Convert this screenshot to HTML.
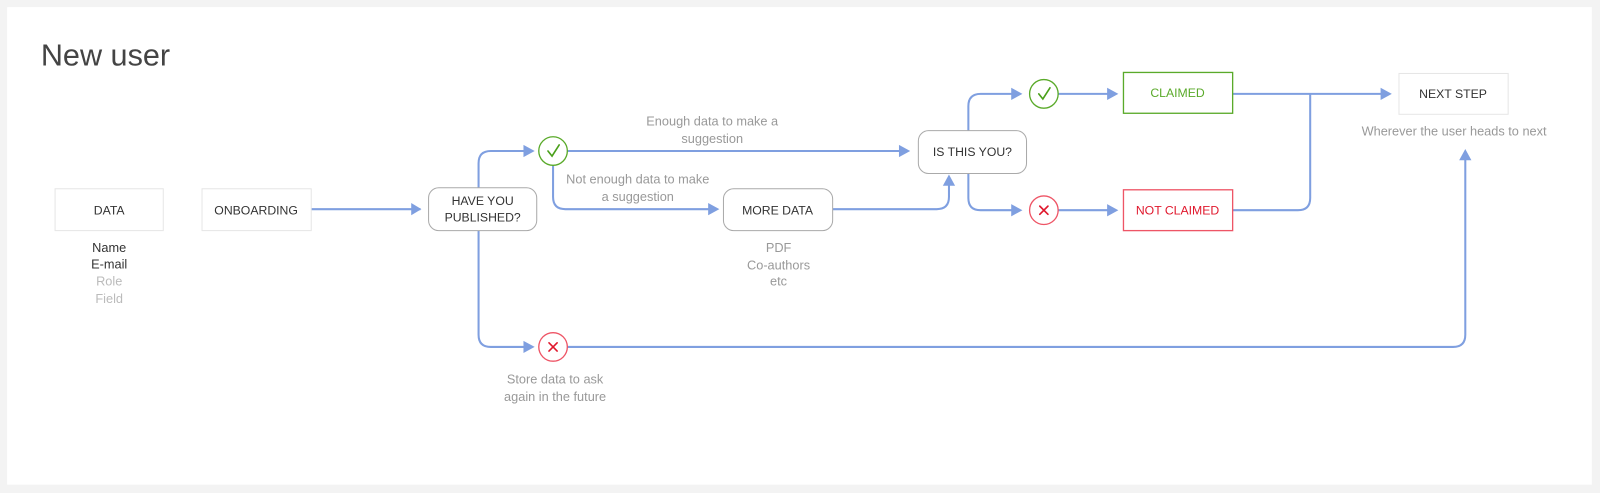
<!DOCTYPE html>
<html><head><meta charset="utf-8"><style>
html,body{margin:0;padding:0;background:#f3f3f3;}
svg{display:block;font-family:"Liberation Sans",Arial,sans-serif;}
</style></head><body>
<svg width="1600" height="493" viewBox="0 0 1600 493" xmlns="http://www.w3.org/2000/svg">
<rect x="0" y="0" width="1600" height="493" fill="#f3f3f3"/>
<g transform="scale(1.0204)">
<rect x="7" y="7" width="1553" height="468" fill="#ffffff"/>
<text x="40" y="64" font-size="30" fill="#444">New user</text>

<g fill="none" stroke="#7f9fe0" stroke-width="2">
<path d="M305 205 H412"/>
<path d="M469 184 V160 Q469 148 481 148 H516"/>
<path d="M469 226 V328 Q469 340 481 340 H516"/>
<path d="M556 148 H884"/>
<path d="M542 162 V193 Q542 205 554 205 H697"/>
<path d="M816 205 H918 Q930 205 930 193 V180"/>
<path d="M949 128 V104 Q949 92 961 92 H994"/>
<path d="M949 170 V194 Q949 206 961 206 H994"/>
<path d="M1037 92 H1088"/>
<path d="M1037 206 H1088"/>
<path d="M1208 92 H1356"/>
<path d="M1208 206 H1272 Q1284 206 1284 194 V92"/>
<path d="M556 340 H1424 Q1436 340 1436 328 V155"/>
</g>
<g fill="#7f9fe0">
<polygon points="403,199 413,205 403,211"/>
<polygon points="513,142 524,148 513,154"/>
<polygon points="513,334 524,340 513,346"/>
<polygon points="881,142 892,148 881,154"/>
<polygon points="694,199 705,205 694,211"/>
<polygon points="924,182 930,171 936,182"/>
<polygon points="991,86 1002,92 991,98"/>
<polygon points="991,200 1002,206 991,212"/>
<polygon points="1085,86 1096,92 1085,98"/>
<polygon points="1085,200 1096,206 1085,212"/>
<polygon points="1353,86 1364,92 1353,98"/>
<polygon points="1430,157 1436,146 1442,157"/>
</g>

<g font-size="12" fill="#333" text-anchor="middle">
<rect x="54" y="185" width="106" height="41" fill="#fff" stroke="#e6e6e6"/>
<text x="107" y="210">DATA</text>
<rect x="198" y="185" width="107" height="41" fill="#fff" stroke="#e6e6e6"/>
<text x="251" y="210">ONBOARDING</text>
<rect x="420" y="184" width="106" height="42" rx="10" fill="#fff" stroke="#aaa"/>
<text x="473" y="201">HAVE YOU</text>
<text x="473" y="217">PUBLISHED?</text>
<rect x="709" y="185" width="107" height="41" rx="10" fill="#fff" stroke="#aaa"/>
<text x="762" y="210">MORE DATA</text>
<rect x="900" y="128" width="106" height="42" rx="10" fill="#fff" stroke="#aaa"/>
<text x="953" y="153">IS THIS YOU?</text>
<rect x="1101" y="71" width="107" height="40" fill="#fff" stroke="#5aaa2a" stroke-width="1.3"/>
<text x="1154" y="95" fill="#5aaa2a">CLAIMED</text>
<rect x="1101" y="186" width="107" height="40" fill="#fff" stroke="#ee5566" stroke-width="1.3"/>
<text x="1154" y="210" fill="#e0182d">NOT CLAIMED</text>
<rect x="1371" y="72" width="107" height="40" fill="#fff" stroke="#e6e6e6"/>
<text x="1424" y="96">NEXT STEP</text>
</g>

<g fill="#fff" stroke-width="1.3">
<circle cx="542" cy="148" r="14" stroke="#5aaa2a"/>
<circle cx="542" cy="340" r="14" stroke="#ee5566"/>
<circle cx="1023" cy="92" r="14" stroke="#5aaa2a"/>
<circle cx="1023" cy="206" r="14" stroke="#ee5566"/>
</g>
<g fill="none" stroke-width="1.6" stroke-linecap="round">
<path d="M537 148 L541 153 L548 142" stroke="#4aa01a"/>
<path d="M1018 92 L1022 97 L1029 86" stroke="#4aa01a"/>
<path d="M538 336 L546 344 M546 336 L538 344" stroke="#e0182d"/>
<path d="M1019 202 L1027 210 M1027 202 L1019 210" stroke="#e0182d"/>
</g>

<g font-size="12.5" fill="#999" text-anchor="middle">
<text x="107" y="247" fill="#333">Name</text>
<text x="107" y="263" fill="#333">E-mail</text>
<text x="107" y="280" fill="#bbb">Role</text>
<text x="107" y="297" fill="#bbb">Field</text>
<text x="698" y="123">Enough data to make a</text>
<text x="698" y="140">suggestion</text>
<text x="625" y="180">Not enough data to make</text>
<text x="625" y="197">a suggestion</text>
<text x="763" y="247">PDF</text>
<text x="763" y="264">Co-authors</text>
<text x="763" y="280">etc</text>
<text x="544" y="376">Store data to ask</text>
<text x="544" y="393">again in the future</text>
<text x="1425" y="133">Wherever the user heads to next</text>
</g>
</g>
</svg>
</body></html>
